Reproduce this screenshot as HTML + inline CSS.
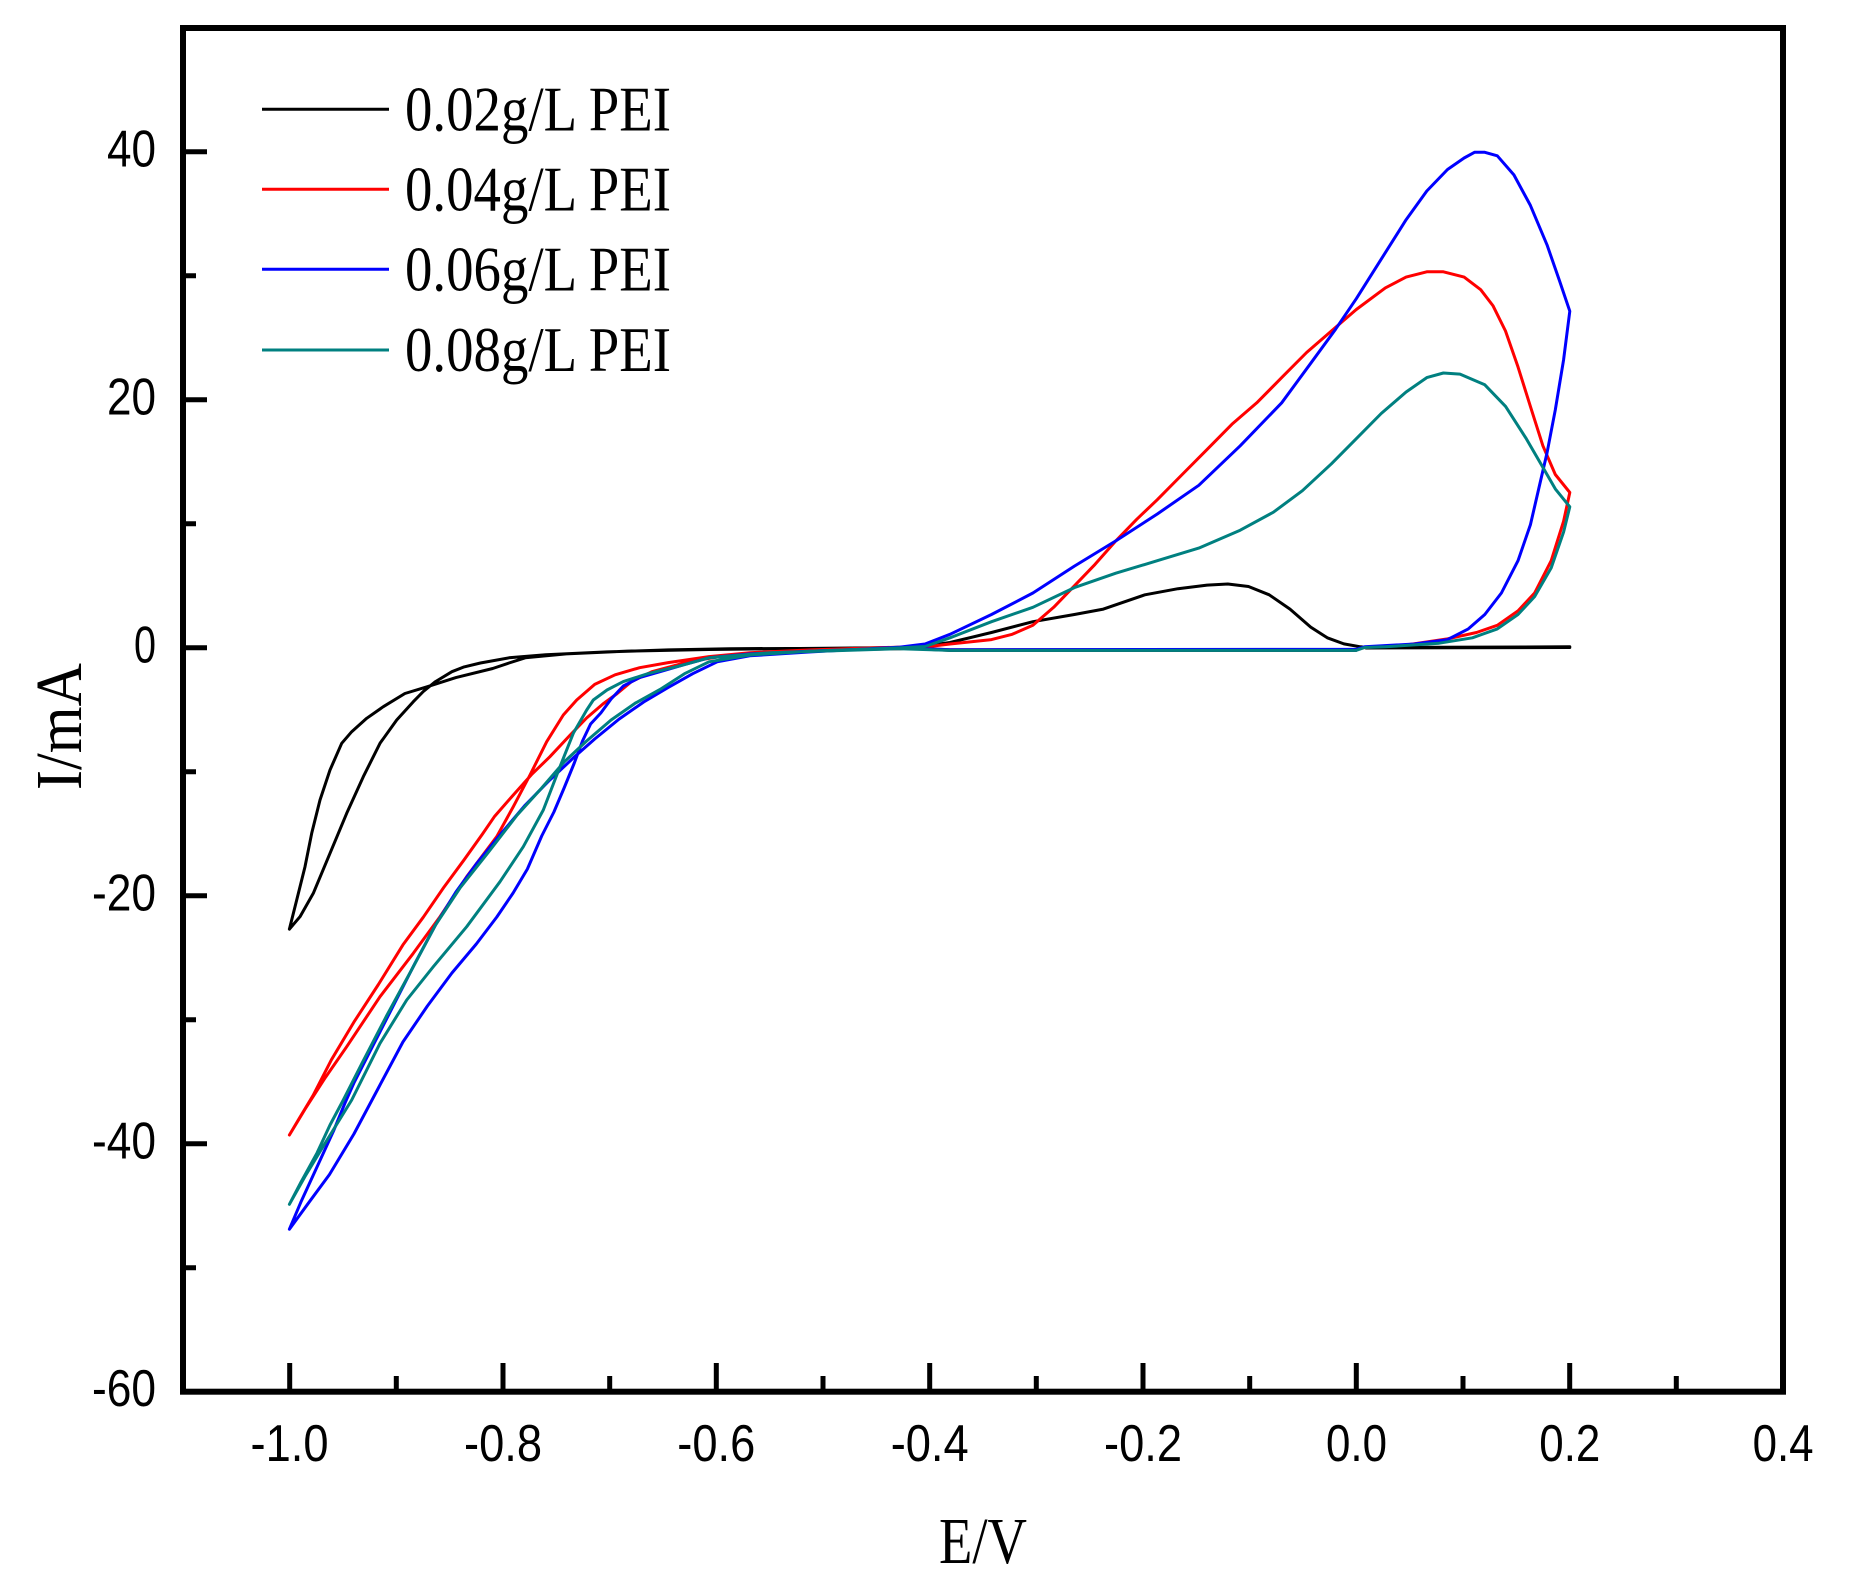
<!DOCTYPE html>
<html><head><meta charset="utf-8"><style>html,body{margin:0;padding:0;background:#fff}svg{display:block}</style></head><body>
<svg width="1862" height="1595" viewBox="0 0 1862 1595" xmlns="http://www.w3.org/2000/svg">
<rect x="0" y="0" width="1862" height="1595" fill="#fff"/>
<g fill="none" stroke-width="3" stroke-linejoin="round" stroke-linecap="round">
<path stroke="#000" d="M289.4,929.1 L296.7,900 305,866.7 311.7,833.3 320,800 330,770 341.7,743.3 351.7,731.7 366.7,718.3 383.3,706.7 404.9,693.5 427.4,686.7 455.9,677.6 492.7,668.5 509,663 525.3,657.8 566.2,653.9 627.4,651.1 709,649.5 800,648.5 900,647.5 925,646 950,642.5 991.5,632.5 1032.9,621.7 1074.4,614.5 1103.4,609.1 1144.9,594.8 1178,588.7 1207.1,585.1 1227.8,584 1248.5,586.5 1269.2,594.8 1290,609.1 1310.7,627.1 1327.3,637.8 1343.9,643.9 1360.5,646.8 1366.7,647.5 1569.8,646.8 M1569.8,647.5 L1366,648 M1356,650.4 L950,650.4 900,648 729.4,648.7 668.2,649.9 607,651.9 545.7,654.7 509,657.8 480.4,663 464.1,666.9 451.9,671.7 435.5,681.6 423.3,691.5 413.3,701.7 396.7,720 380,743.3 363.3,776.7 346.7,813.3 330,853.3 313.3,893.3 300,916.7 289.4,929.1"/>
<path stroke="#ff0000" d="M289.4,1135 L298.8,1119.2 313.1,1095.4 331.4,1059.8 353.9,1022.1 378.4,984.5 402.9,944.9 423.3,917.2 443.7,887.5 464.1,859.8 482.5,834 494.7,816.2 513.1,795.2 531.5,774.6 549.8,756.8 570.2,735 586.6,718 602.9,704 617.2,693.5 631.5,681.6 651.9,671.7 688.6,661.8 729.4,655 790.7,651.1 900,648.7 925,647 950,644 991.5,639.6 1012.2,634.3 1032.9,625.3 1053.7,607.3 1074.4,585.8 1095.1,564.3 1115.8,540.9 1136.6,519.4 1157.3,499.7 1182.2,474.5 1207.1,449.4 1231.9,424.3 1256.8,402.8 1281.7,377.6 1306.6,352.5 1331.4,331 1356.3,309.5 1385.3,287.9 1406.1,277.1 1426.8,271.8 1443.4,271.8 1464.1,277.1 1480.7,289.7 1493.1,305.9 1505.5,331 1518,366.9 1530.4,406.4 1542.9,445.8 1555.3,474.5 1569.8,492.5 1563.6,521.2 1551.2,560.7 1534.6,593 1518,610.9 1497.3,625.3 1476.5,632.5 1447.5,638.9 1406.1,645 1364.6,647.5 1356,649.7 950,649.7 900,647.1 811.1,649.9 749.8,652.7 709,656.6 668.2,662.6 639.6,667.7 615.1,674.8 594.7,684.4 576.7,700 563.3,715 546.7,741.7 530,775 513.3,806.7 496.7,836.7 466.7,876.7 440,916.7 413.3,953.3 380,996.7 346.7,1046.7 325.3,1077.6 304.9,1109.3 289.4,1135"/>
<path stroke="#0000ff" d="M289.4,1229.2 L300.8,1202.3 317.1,1166.7 333.5,1131 345,1103 353.9,1083 374.3,1043 394.7,1003 415.1,963 435.5,925 455.9,892 476.3,864 500.8,834 525.3,805 549.8,780 574.3,757 594.7,739 619.2,719 643.7,702 668.2,687.5 692.7,673.7 717.2,661.8 749.8,655.8 811.1,651.9 900,647.1 925,644 950,634.3 991.5,614.5 1032.9,593 1074.4,566.1 1115.8,540.9 1157.3,514 1198.8,485.3 1240.2,445.8 1281.7,402.8 1310.7,363.3 1335.6,329.2 1356.3,298.7 1381.2,259.2 1406.1,219.7 1426.8,191 1447.5,169.5 1464.1,158 1474.5,152.3 1484.8,152.3 1497.3,155.8 1513.9,174.9 1530.4,205.4 1547,244.8 1559.5,280.7 1569.8,311.2 1563.6,359.7 1555.3,409.9 1547,453 1538.7,488.9 1530.4,524.8 1518,560.7 1501.4,593 1484.8,614.5 1468.3,628.9 1447.5,639.6 1414.4,644 1364.6,646.8 1356.3,649.3 950,649.7 900,647.9 811.1,651.1 749.8,653.9 709,657.8 684.5,664.6 660,671.7 639.6,677.6 623.3,686 611.1,699 600.8,713 590.6,724 582.5,741 574.3,763 564.1,788 553.9,812 541.7,836 527.4,869 513.1,893 496.8,917 476.3,944 451.9,973 427.4,1006 402.9,1042 378.4,1088 353.9,1134 329.4,1174.6 309,1202.3 289.4,1229.2"/>
<path stroke="#008080" d="M289.4,1204.3 L300.8,1182.5 317.1,1152.8 330,1125 343.3,1100 362.1,1063 386.5,1016 411,971 435.5,925 460,888 488.6,852 517.2,815 541.7,788 564.1,762 586.6,741 611.1,720 635.5,703 660,689.5 684.5,673.7 709,661.8 749.8,655 811.1,651.1 900,647.9 925,646.5 950,637.8 991.5,621.7 1032.9,607.3 1074.4,587.6 1115.8,573.2 1157.3,560.7 1198.8,548.1 1240.2,530.2 1273.4,512.2 1302.4,490.7 1331.4,463.8 1356.3,438.7 1381.2,413.5 1406.1,392 1426.8,377.6 1443.4,373 1460,374.1 1484.8,384.8 1505.6,406.4 1526.3,438.7 1542.9,467.4 1555.3,488.9 1569.8,506.8 1563.6,532 1551.2,567.9 1534.6,596.6 1518,614.5 1497.3,628.9 1472.4,637.8 1439.2,643.2 1385.3,646.8 1364.6,647.5 1356,650.4 950,650.4 900,648.7 770.3,652.7 709,657.8 680.4,665.7 647.8,673.7 623.3,681.6 607,690 593.3,700 586.7,710 573.3,733.3 560,766.7 543.3,810 523.3,846.7 500,881.7 466.7,926.7 433.3,966.7 406.7,1000 380,1043.3 351.7,1100 325.3,1142.9 304.9,1176.6 289.4,1204.3"/>
</g>
<rect x="183" y="28" width="1600" height="1363.7" fill="none" stroke="#000" stroke-width="6"/>
<g stroke="#000" stroke-width="5">
<path d="M289.7,1391.7V1363 M503,1391.7V1363 M716.3,1391.7V1363 M929.7,1391.7V1363 M1143,1391.7V1363 M1356.3,1391.7V1363 M1569.7,1391.7V1363"/>
<path d="M396.3,1391.7V1376 M609.7,1391.7V1376 M823,1391.7V1376 M1036.3,1391.7V1376 M1249.7,1391.7V1376 M1463,1391.7V1376 M1676.3,1391.7V1376"/>
<path d="M183,151.7H207 M183,399.7H207 M183,647.7H207 M183,895.7H207 M183,1143.7H207"/>
<path d="M183,275.7H196 M183,523.7H196 M183,771.7H196 M183,1019.7H196 M183,1267.7H196"/>
</g>
<g font-family="'Liberation Sans', Arial, sans-serif" font-size="52" fill="#000">
<text x="156" y="166.5" text-anchor="end" textLength="49" lengthAdjust="spacingAndGlyphs">40</text>
<text x="156" y="414.5" text-anchor="end" textLength="49" lengthAdjust="spacingAndGlyphs">20</text>
<text x="156" y="662.3" text-anchor="end" textLength="22" lengthAdjust="spacingAndGlyphs">0</text>
<text x="156" y="910.5" text-anchor="end" textLength="64" lengthAdjust="spacingAndGlyphs">-20</text>
<text x="156" y="1158.5" text-anchor="end" textLength="64" lengthAdjust="spacingAndGlyphs">-40</text>
<text x="156" y="1406" text-anchor="end" textLength="64" lengthAdjust="spacingAndGlyphs">-60</text>
<text x="250.5" y="1461" textLength="78" lengthAdjust="spacingAndGlyphs">-1.0</text>
<text x="464" y="1461" textLength="78" lengthAdjust="spacingAndGlyphs">-0.8</text>
<text x="677.3" y="1461" textLength="78" lengthAdjust="spacingAndGlyphs">-0.6</text>
<text x="890.7" y="1461" textLength="78" lengthAdjust="spacingAndGlyphs">-0.4</text>
<text x="1104" y="1461" textLength="78" lengthAdjust="spacingAndGlyphs">-0.2</text>
<text x="1326" y="1461" textLength="61" lengthAdjust="spacingAndGlyphs">0.0</text>
<text x="1539.3" y="1461" textLength="61" lengthAdjust="spacingAndGlyphs">0.2</text>
<text x="1752.6" y="1461" textLength="61" lengthAdjust="spacingAndGlyphs">0.4</text>
</g>
<g font-family="'Liberation Serif', 'Times New Roman', serif" fill="#000">
<text x="939" y="1563" font-size="66" textLength="88" lengthAdjust="spacingAndGlyphs">E/V</text>
<text transform="translate(81,790) rotate(-90)" x="0" y="0" font-size="66" textLength="127" lengthAdjust="spacingAndGlyphs">I/mA</text>
</g>
<g stroke-width="3">
<line x1="262" y1="109.3" x2="389" y2="109.3" stroke="#000"/>
<line x1="262" y1="189.3" x2="389" y2="189.3" stroke="#ff0000"/>
<line x1="262" y1="269.3" x2="389" y2="269.3" stroke="#0000ff"/>
<line x1="262" y1="350" x2="389" y2="350" stroke="#008080"/>
</g>
<g font-family="'Liberation Serif', 'Times New Roman', serif" font-size="64" fill="#000">
<text x="405" y="130.5" textLength="266" lengthAdjust="spacingAndGlyphs">0.02g/L PEI</text>
<text x="405" y="210.5" textLength="266" lengthAdjust="spacingAndGlyphs">0.04g/L PEI</text>
<text x="405" y="290.5" textLength="266" lengthAdjust="spacingAndGlyphs">0.06g/L PEI</text>
<text x="405" y="371" textLength="266" lengthAdjust="spacingAndGlyphs">0.08g/L PEI</text>
</g>
</svg>
</body></html>
